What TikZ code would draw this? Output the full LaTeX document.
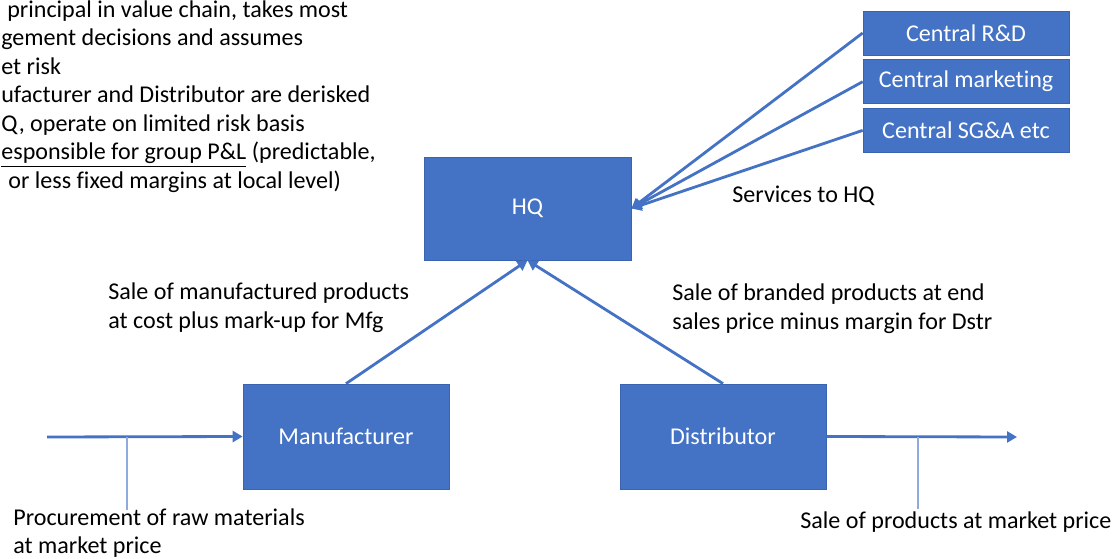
\documentclass[tikz,border=0pt]{standalone}
\usepackage{fontspec}
\setmainfont{Carlito}[Ligatures=NoCommon]
\usepackage{xcolor}
\usepackage{tikz}
\usetikzlibrary{positioning}
\usetikzlibrary{arrows.meta}

\definecolor{boxblue}{HTML}{4472C4}
\definecolor{edgeblue}{HTML}{3A64B0}
\definecolor{thinblue}{HTML}{8FAADC}

\tikzset{
	entity/.style={draw=edgeblue, line width=0.4pt, fill=boxblue, text=white, minimum width=4.12cm, inner sep=0pt},
	flow/.style={draw=boxblue, line width=1.6pt, -{Triangle[length=0.2cm, width=0.22cm]}},
	callout/.style={draw=thinblue, line width=0.6pt},
	caption/.style={inner sep=0pt, align=left}
}

\begin{document}
\begin{tikzpicture}[font=\fontsize{13.7}{16.25}\selectfont]
		
		% ---------------------
		% Proper size --- Bounding box
		\useasboundingbox (0.00cm, -11.18cm) rectangle (22.26cm, 0.00cm);
		
		% ---------------------
		% Entities
		
		\node[entity, minimum height=2.06cm, minimum width=4.14cm] (HQ) at (10.55cm,-4.17cm) {HQ};
		\node[entity, minimum height=2.10cm] (Mfg) at (6.92cm,-8.73cm) {Manufacturer};
		\node[entity, minimum height=2.10cm] (Dstr) at (14.46cm,-8.73cm) {Distributor};
		
		\node[entity, minimum height=0.88cm] (RnD) at (19.32cm,-0.66cm) {Central R\&D};
		\node[entity, minimum height=0.88cm, below=0.08cm of RnD] (Mkt) {Central marketing};
		\node[entity, minimum height=0.88cm, below=0.08cm of Mkt] (SGA) {Central SG\&A etc};
		
		% ---------------------
		% Open ends & callout feet
		
		\coordinate (Raw) at (0.94cm,-8.74cm);
		\coordinate (Market) at (20.34cm,-8.74cm);
		
		\path (Raw) +(1.60cm,0.00cm) coordinate (RawTap);
		\path (RawTap) +(0.00cm,-1.46cm) coordinate (RawFoot);
		\path (Market) +(-1.98cm,0.00cm) coordinate (MarketTap);
		\path (MarketTap) +(0.00cm,-1.44cm) coordinate (MarketFoot);
		
		% ---------------------
		% Labels
		
		\node[caption, anchor=north west] (Notes) at (0.02cm,0.00cm)
			{\hspace{0.12cm}principal in value chain, takes most\\
			 gement decisions and assumes\\
			 et risk\\
			 ufacturer and Distributor are derisked\\
			 Q, operate on limited risk basis\\
			 \underline{esponsible for group P\&L} (predictable,\\
			 \hspace{0.14cm}or less fixed margins at local level)};
		
		\node[caption, anchor=north west] (MfgSale) at (2.16cm,-5.65cm)
			{Sale of manufactured products\\at cost plus mark-up for Mfg};
		\node[caption, anchor=north west] (DstrSale) at (13.44cm,-5.67cm)
			{Sale of branded products at end\\sales price minus margin for Dstr};
		\node[caption, anchor=base west] (Services) at (14.64cm,-4.05cm) {Services to HQ};
		\node[caption, anchor=north west] (Procure) at (0.26cm,-10.16cm)
			{Procurement of raw materials\\at market price};
		\node[caption, anchor=base west] (Sale) at (16.00cm,-10.57cm) {Sale of products at market price};
		
		% ---------------------
		% Flows
		
		\draw[flow] (RnD.west) -- (HQ.east);
		\draw[flow] (Mkt.west) -- (HQ.east);
		\draw[flow] (SGA.west) -- (HQ.east);
		
		\draw[flow] (Mfg.north) -- (HQ.south);
		\draw[flow] (Dstr.north) -- (HQ.south);
		
		\draw[flow] (Raw) -- (Mfg.west);
		\draw[flow] (Dstr.east) -- (Market);
		
		\draw[callout] (RawTap) -- (RawFoot);
		\draw[callout] (MarketTap) -- (MarketFoot);
		
\end{tikzpicture}
\end{document}
